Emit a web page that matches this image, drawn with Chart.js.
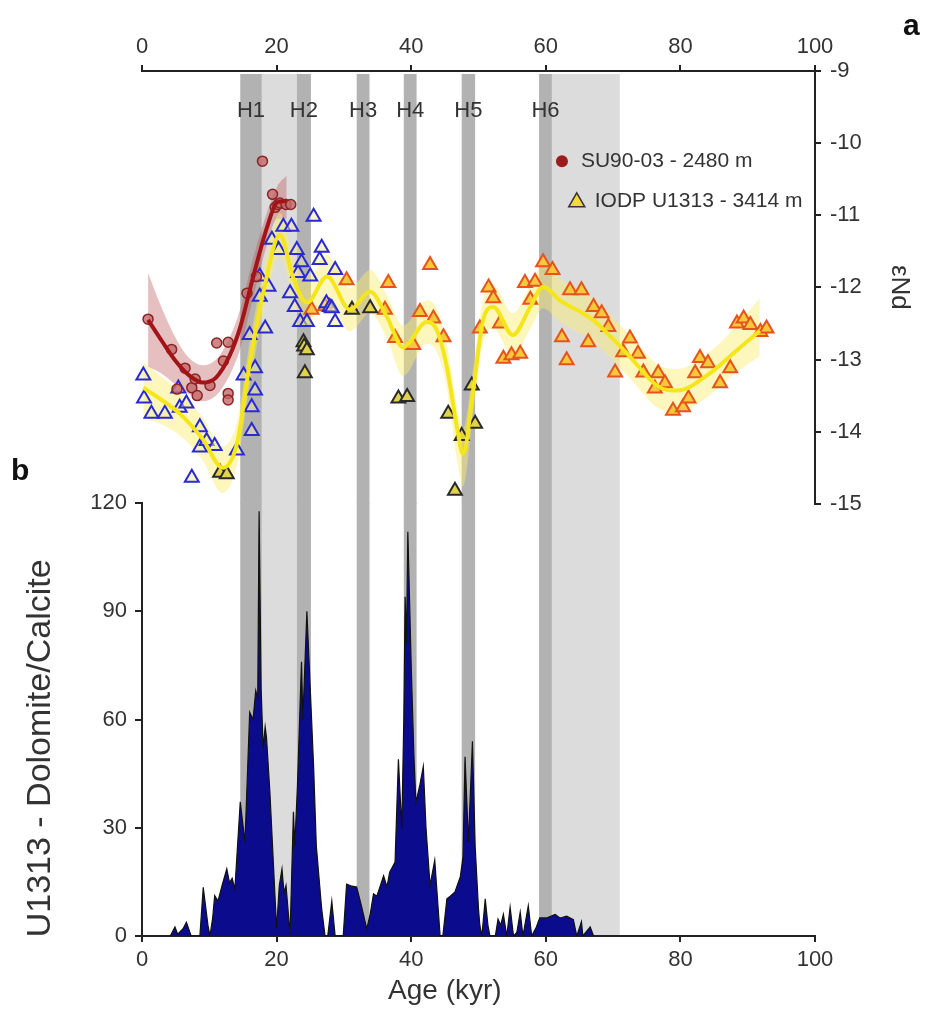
<!DOCTYPE html>
<html>
<head>
<meta charset="utf-8">
<script src="https://cdn.jsdelivr.net/npm/chart.js@4.4.1/dist/chart.umd.min.js"></script>
<style>
  body { margin: 0; background: #fff; }
  #wrap { position: relative; width: 928px; height: 1019px; overflow: hidden; font-family: "Liberation Sans", Arial, sans-serif; }
  #topChart, #botChart { position: absolute; left: 0; }
  #topChart { top: 0; }
  #botChart { top: 480px; }
  .panel { position: absolute; font-weight: bold; font-size: 30px; color: #111; line-height: 34px; }
</style>
</head>
<body>
<div id="wrap">
  <canvas id="topChart" width="928" height="526"></canvas>
  <canvas id="botChart" width="928" height="539"></canvas>
  <div class="panel" style="left:903px;top:8px">a</div>
  <div class="panel" style="left:11px;top:453px">b</div>
</div>
<script>
// Heinrich stadials and shaded intervals (kyr)
const darkBands = [[14.6, 17.8], [23.0, 25.1], [31.9, 33.8], [38.9, 40.8], [47.5, 49.5], [59.0, 60.9]];
const lightBands = [[17.8, 23.0], [60.9, 71.0]];
const bandLabels = ['H1', 'H2', 'H3', 'H4', 'H5', 'H6'];

// SU90-03 (2480 m)
const suAge = [0.9, 4.4, 5.2, 6.4, 7.4, 7.9, 8.2, 10.1, 11.1, 12.1, 12.8, 12.8, 12.8, 15.6, 17.0, 17.9, 19.4, 19.8, 20.2, 20.5, 21.4, 22.1];
const suNd = [-12.44, -12.86, -13.41, -13.12, -13.39, -13.27, -13.50, -13.36, -12.77, -13.02, -12.76, -13.47, -13.56, -12.08, -11.85, -10.25, -10.71, -10.89, -10.85, -10.83, -10.85, -10.85];
const suFitAge = [0.9, 3, 5, 7, 9, 11, 13, 14.6, 16.5, 18.6, 20.1, 21.5];
const suFit = [-12.45, -12.75, -13.02, -13.22, -13.32, -13.25, -12.95, -12.55, -11.86, -11.16, -10.82, -10.8];
const suHi = [-11.8, -12.3, -12.7, -12.98, -13.08, -13.0, -12.7, -12.3, -11.6, -10.95, -10.6, -10.45];
const suLo = [-13.1, -13.2, -13.35, -13.48, -13.58, -13.5, -13.22, -12.85, -12.15, -11.4, -11.05, -11.05];

// IODP U1313 (3414 m), three sub-records
const blueAge = [0.2, 0.3, 1.4, 3.4, 5.4, 5.6, 6.6, 7.4, 8.6, 8.6, 9.6, 10.8, 14.1, 15.1, 16.0, 16.3, 16.3, 16.8, 16.8, 17.5, 17.5, 18.3, 18.8, 19.3, 20.3, 21.0, 22.0, 22.2, 22.7, 23.0, 23.2, 23.5, 23.7, 24.5, 25.0, 25.5, 26.4, 26.7, 27.4, 27.9, 28.2, 28.7, 28.7];
const blueNd = [-13.22, -13.54, -13.75, -13.75, -13.40, -13.67, -13.61, -14.64, -13.94, -14.22, -14.13, -14.2, -14.26, -13.22, -12.66, -13.66, -13.99, -13.12, -13.43, -12.13, -11.85, -12.57, -11.99, -11.34, -11.48, -11.16, -12.08, -11.16, -12.27, -11.48, -11.8, -12.48, -11.65, -12.48, -11.85, -11.02, -11.62, -11.45, -12.22, -12.27, -12.29, -11.76, -12.48];
const blackAge = [11.6, 12.6, 24.0, 24.1, 24.5, 24.2, 31.2, 33.9, 38.1, 39.4, 45.5, 46.5, 47.5, 49.0, 49.5];
const blackNd = [-14.57, -14.59, -12.76, -12.82, -12.87, -13.19, -12.31, -12.29, -13.54, -13.52, -13.75, -14.82, -14.06, -13.36, -13.89];
const orangeAge = [25.2, 27.2, 30.4, 36.1, 36.6, 37.6, 40.3, 41.3, 42.8, 43.3, 44.8, 50.2, 51.5, 52.2, 53.2, 53.7, 54.9, 56.2, 56.9, 57.7, 58.4, 59.6, 61.0, 62.4, 63.1, 63.6, 65.3, 66.3, 67.1, 68.3, 69.3, 70.3, 71.5, 72.5, 73.7, 74.5, 76.2, 76.7, 77.7, 78.9, 80.4, 81.2, 82.2, 82.9, 84.1, 85.9, 87.4, 88.4, 89.4, 90.4, 91.9, 92.8];
const orangeNd = [-12.31, -12.26, -11.9, -12.31, -11.94, -12.7, -12.8, -12.34, -11.69, -12.43, -12.69, -12.57, -12.0, -12.15, -12.5, -12.99, -12.94, -12.92, -11.94, -12.17, -11.92, -11.65, -11.76, -12.69, -13.01, -12.04, -12.04, -12.76, -12.27, -12.36, -12.55, -13.18, -12.9, -12.71, -12.92, -13.18, -13.4, -13.19, -13.33, -13.71, -13.66, -13.54, -13.19, -12.98, -13.05, -13.33, -13.12, -12.5, -12.43, -12.52, -12.62, -12.57];
const uFitAge = [0.2, 5.6, 9, 12.0, 14.1, 16.0, 18.0, 20.5, 22.4, 24.5, 27.5, 30.9, 33.9, 36.4, 38.8, 42.3, 43.8, 45.3, 46.8, 47.7, 49.2, 50.7, 52.2, 55.1, 57.7, 59.6, 62.1, 67.0, 72.1, 77.0, 79.5, 84.4, 88.4, 91.8];
const uFit = [-13.39, -13.75, -14.1, -14.5, -14.17, -13.06, -12.08, -11.27, -11.85, -12.21, -11.85, -12.31, -12.06, -12.41, -12.83, -12.48, -12.59, -13.1, -13.94, -14.31, -13.43, -12.45, -12.27, -12.66, -12.27, -11.99, -12.18, -12.45, -12.92, -13.39, -13.43, -13.19, -12.87, -12.6];
const uHi = [-13.04, -13.45, -13.8, -14.2, -13.87, -12.76, -11.78, -10.97, -11.55, -11.91, -11.55, -12.01, -11.76, -12.11, -12.53, -12.18, -12.29, -12.8, -13.64, -13.96, -13.13, -12.15, -11.97, -12.36, -11.97, -11.69, -11.88, -12.15, -12.62, -13.09, -13.13, -12.89, -12.52, -12.15];
const uLo = [-13.79, -14.05, -14.4, -14.85, -14.47, -13.36, -12.38, -11.57, -12.15, -12.51, -12.15, -12.61, -12.36, -12.71, -13.23, -12.78, -12.89, -13.4, -14.39, -14.76, -13.73, -12.75, -12.57, -12.96, -12.57, -12.29, -12.48, -12.75, -13.22, -13.69, -13.73, -13.49, -13.17, -12.95];

// U1313 dolomite/calcite
const doloAge = [4.2, 4.9, 5.3, 6.1, 6.6, 7.3, 8.6, 9.1, 9.8, 10.1, 10.5, 10.8, 11.3, 11.9, 12.6, 13.0, 13.4, 13.8, 14.6, 15.3, 16.0, 16.5, 16.9, 17.2, 17.4, 17.7, 18.0, 18.3, 18.5, 19.0, 20.0, 20.4, 20.8, 21.1, 21.4, 22.0, 22.5, 22.7, 23.1, 23.7, 23.9, 24.5, 25.0, 25.5, 25.9, 26.7, 27.0, 27.2, 27.6, 28.2, 28.7, 29.9, 30.4, 31.2, 31.9, 32.6, 33.4, 33.9, 34.4, 34.9, 35.9, 36.4, 36.8, 37.6, 38.1, 38.6, 38.9, 39.1, 39.3, 39.5, 40.0, 40.4, 40.7, 41.3, 41.8, 42.2, 42.8, 43.5, 44.3, 44.7, 45.3, 45.8, 46.5, 47.3, 47.7, 48.0, 48.5, 49.1, 49.5, 50.0, 50.2, 50.5, 51.0, 51.4, 51.7, 52.5, 52.9, 53.3, 53.7, 54.2, 54.7, 55.2, 55.7, 56.2, 56.6, 57.4, 57.9, 58.6, 59.1, 60.1, 60.8, 61.4, 62.1, 63.1, 64.1, 64.6, 65.3, 65.5, 66.6, 67.1];
const doloRatio = [0, 2.5, 0.5, 2, 3.8, 0, 0, 13.5, 3, 0, 5, 11.2, 9.7, 14, 18.6, 14.8, 16, 13, 37.2, 26, 62, 60, 68, 66, 117.7, 68.6, 52, 58, 55, 40, 2, 14, 18.6, 12, 14, 0.5, 34.4, 25, 41.7, 76, 60, 90, 68.6, 47, 25, 7.5, 3, 0, 0, 9.7, 0, 0, 14.4, 13.8, 13.6, 8.4, 2, 6, 11.7, 11, 16.7, 13.6, 17.7, 20.5, 49, 29.7, 60, 94, 81, 112, 75, 50, 37, 42, 47, 30, 14, 21, 0, 0, 10.3, 11, 12.2, 16.4, 22, 49.7, 26, 54, 25, 7.5, 3, 0, 10.3, 3, 0, 0, 4.7, 3, 6, 0, 8, 0, 1, 6.6, 0, 8.4, 0, 2.5, 5, 5, 5.5, 6, 5, 5.5, 4.5, 0, 4, 0, 2.5, 0];

const ageTicks = [0, 20, 40, 60, 80, 100];

Chart.defaults.font.family = '"Liberation Sans", Arial, Helvetica, sans-serif';
Chart.defaults.color = '#333';

const pts = (xs, ys) => xs.map((x, i) => ({ x: x, y: ys[i] }));

const axisGrid = { drawOnChartArea: false, tickLength: 6, color: '#222', lineWidth: 2 };
const axisBorder = { color: '#222', width: 2 };
const tickFont = { size: 22 };

function ageAxis(position, height) {
    return {
        type: 'linear', position: position, min: 0, max: 100,
        afterBuildTicks: s => { s.ticks = ageTicks.map(v => ({ value: v })); },
        ticks: { font: tickFont, padding: 5, color: '#333' },
        grid: axisGrid, border: axisBorder,
        afterFit: s => { s.height = height; }
    };
}

// grey stadial bands behind everything, shared by both panels
const bandPlugin = {
    id: 'bands',
    beforeDraw(chart, args, opts) {
        const { ctx, chartArea } = chart;
        const xs = chart.scales.x;
        const top = chartArea.top + (opts.inset || 0);
        const fillBands = (list, color) => {
            ctx.fillStyle = color;
            list.forEach(([a, b]) => {
                const x0 = xs.getPixelForValue(a), x1 = xs.getPixelForValue(b);
                ctx.fillRect(x0, top, x1 - x0, chartArea.bottom - top);
            });
        };
        ctx.save();
        fillBands(lightBands, '#dcdcdc');
        fillBands(darkBands, '#b2b2b2');
        ctx.restore();
    }
};

const labelPlugin = {
    id: 'topLabels',
    afterDraw(chart) {
        const { ctx } = chart;
        const xs = chart.scales.x, ys = chart.scales.y;
        ctx.save();
        ctx.fillStyle = '#333';
        ctx.font = '22px "Liberation Sans", Arial';
        ctx.textAlign = 'center';
        ctx.textBaseline = 'middle';
        darkBands.forEach(([a, b], i) => {
            ctx.fillText(bandLabels[i], xs.getPixelForValue((a + b) / 2), ys.getPixelForValue(-9.56));
        });

        // legend
        ctx.font = '21px "Liberation Sans", Arial';
        ctx.textAlign = 'left';
        const cx = xs.getPixelForValue(62.4), cy = ys.getPixelForValue(-10.25);
        ctx.beginPath();
        ctx.arc(cx, cy, 6, 0, Math.PI * 2);
        ctx.fillStyle = '#9e1b1b';
        ctx.fill();
        ctx.fillStyle = '#333';
        ctx.fillText('SU90-03 - 2480 m', cx + 19, cy);

        const tx = xs.getPixelForValue(64.6), ty = ys.getPixelForValue(-10.8);
        ctx.beginPath();
        ctx.moveTo(tx, ty - 8);
        ctx.lineTo(tx + 8, ty + 6);
        ctx.lineTo(tx - 8, ty + 6);
        ctx.closePath();
        ctx.fillStyle = '#f3d93a';
        ctx.fill();
        ctx.lineWidth = 1.5;
        ctx.strokeStyle = '#333';
        ctx.stroke();
        ctx.fillStyle = '#333';
        ctx.fillText('IODP U1313 - 3414 m', tx + 18, ty);
        ctx.restore();
    }
};

const titlePlugin = {
    id: 'botTitles',
    afterDraw(chart) {
        const { ctx, chartArea } = chart;
        const xs = chart.scales.x, ys = chart.scales.y;
        ctx.save();
        ctx.fillStyle = '#333';
        ctx.textAlign = 'center';
        ctx.textBaseline = 'middle';
        ctx.font = '28px "Liberation Sans", Arial';
        ctx.fillText('Age (kyr)', xs.getPixelForValue(45), chartArea.bottom + 55);
        ctx.translate(41, ys.getPixelForValue(52));
        ctx.rotate(-Math.PI / 2);
        ctx.font = '34px "Liberation Sans", Arial';
        ctx.fillText('U1313 - Dolomite/Calcite', 0, 0);
        ctx.restore();
    }
};

const triangle = (border, fill, order) => ({
    pointStyle: 'triangle', pointRadius: 8, borderWidth: 2,
    borderColor: border, backgroundColor: fill, order: order, clip: false
});

new Chart(document.getElementById('topChart'), {
    type: 'scatter',
    data: {
        datasets: [
            { data: pts(suFitAge, suHi), showLine: true, borderWidth: 0, pointRadius: 0, cubicInterpolationMode: 'monotone', order: 9, clip: false },
            { data: pts(suFitAge, suLo), showLine: true, borderWidth: 0, pointRadius: 0, cubicInterpolationMode: 'monotone', fill: '-1', backgroundColor: 'rgba(185, 80, 80, 0.36)', order: 9, clip: false },
            { data: pts(uFitAge, uHi), showLine: true, borderWidth: 0, pointRadius: 0, cubicInterpolationMode: 'monotone', order: 8, clip: false },
            { data: pts(uFitAge, uLo), showLine: true, borderWidth: 0, pointRadius: 0, cubicInterpolationMode: 'monotone', fill: '-1', backgroundColor: 'rgba(250, 238, 110, 0.45)', order: 8, clip: false },
            Object.assign({ data: pts(blueAge, blueNd) }, triangle('#2a2ad2', 'rgba(240, 234, 160, 0.5)', 5)),
            Object.assign({ data: pts(orangeAge, orangeNd) }, triangle('#e6531c', '#f6c83c', 5)),
            Object.assign({ data: pts(blackAge, blackNd) }, triangle('#2a2a2a', '#e0d24a', 4)),
            { data: pts(suAge, suNd), pointRadius: 5, borderWidth: 1.5, borderColor: '#8a2424', backgroundColor: 'rgba(196, 105, 105, 0.8)', order: 3, clip: false },
            { data: pts(uFitAge, uFit), showLine: true, pointRadius: 0, borderWidth: 4, borderColor: '#f5e61c', cubicInterpolationMode: 'monotone', order: 2, clip: false },
            { data: pts(suFitAge, suFit), showLine: true, pointRadius: 0, borderWidth: 4, borderColor: '#a31418', cubicInterpolationMode: 'monotone', order: 1, clip: false }
        ]
    },
    options: {
        responsive: false,
        animation: false,
        events: [],
        layout: { padding: { left: 142, right: 0, top: 0, bottom: 17 } },
        plugins: { legend: { display: false }, tooltip: { enabled: false }, bands: { inset: 3 } },
        scales: {
            x: ageAxis('top', 71),
            y: {
                position: 'right', min: -15, max: -9,
                ticks: { stepSize: 1, font: tickFont, padding: 9, color: '#333' },
                grid: axisGrid, border: axisBorder,
                title: { display: true, text: 'εNd', font: { size: 26 }, color: '#333', padding: { top: 13, bottom: 0 } },
                afterFit: s => { s.width = 113; }
            }
        }
    },
    plugins: [bandPlugin, labelPlugin]
});

new Chart(document.getElementById('botChart'), {
    type: 'line',
    data: {
        datasets: [{
            data: pts(doloAge, doloRatio),
            borderColor: '#111',
            borderWidth: 1.2,
            backgroundColor: '#0b0b8e',
            fill: 'origin',
            pointRadius: 0,
            tension: 0
        }]
    },
    options: {
        responsive: false,
        animation: false,
        events: [],
        layout: { padding: { left: 0, right: 113, top: 23, bottom: 0 } },
        plugins: { legend: { display: false }, tooltip: { enabled: false } },
        scales: {
            x: ageAxis('bottom', 83),
            y: {
                position: 'left', min: 0, max: 120,
                ticks: { stepSize: 30, font: tickFont, padding: 8, color: '#333' },
                grid: Object.assign({}, axisGrid, { tickLength: 7 }), border: axisBorder,
                afterFit: s => { s.width = 142; }
            }
        }
    },
    plugins: [bandPlugin, titlePlugin]
});
</script>
</body>
</html>
